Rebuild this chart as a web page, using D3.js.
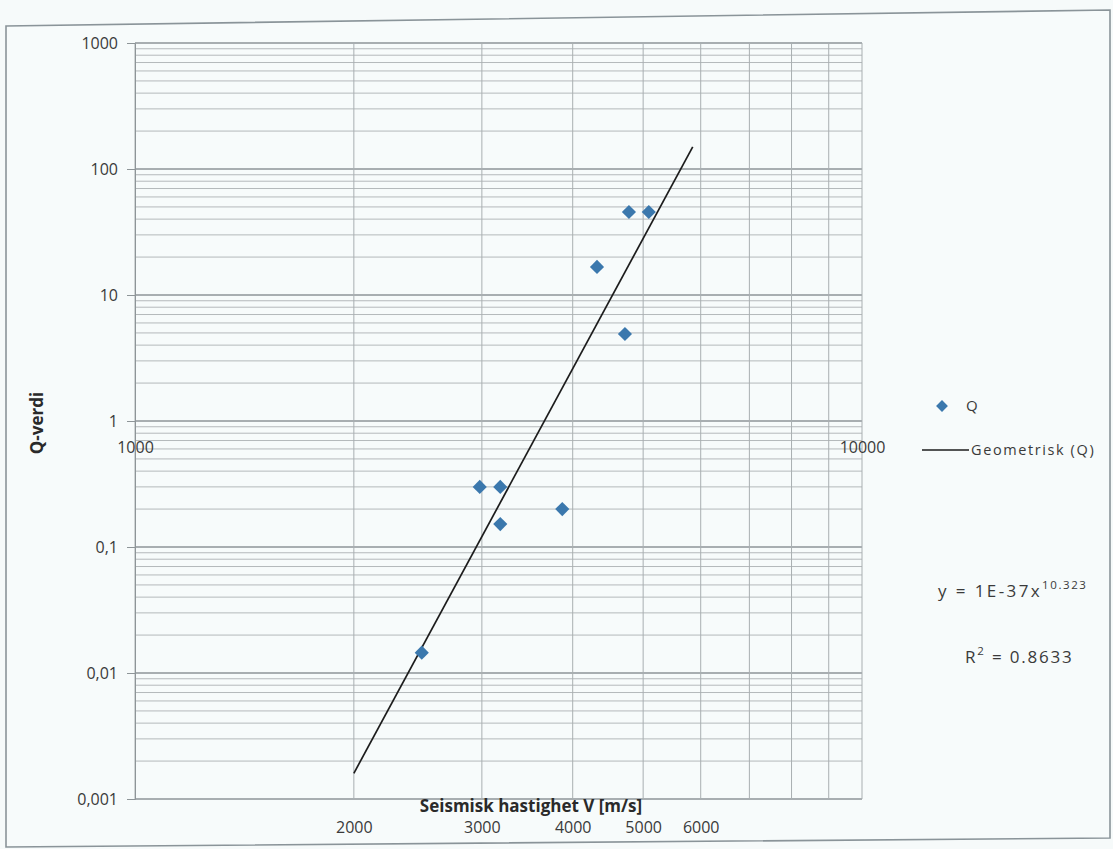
<!DOCTYPE html>
<html>
<head>
<meta charset="utf-8">
<script src="https://cdn.jsdelivr.net/npm/d3@7"></script>
<style>
  html, body { margin: 0; padding: 0; background: #f6fafa; }
  svg { display: block; font-family: "Open Sans", "Liberation Sans", sans-serif; }
</style>
</head>
<body>
<svg id="chart" width="1113" height="849"></svg>
<script>
// ---- data ----
const velocity = [2480, 2980, 3180, 3180, 3870, 4320, 4720, 4780, 5090];
const qValue   = [0.0145, 0.30, 0.30, 0.152, 0.20, 16.7, 4.9, 45.6, 45.6];
const trendX = [2000, 5850];
const trendY = [0.0016, 150];
const yTickValues = [1000, 100, 10, 1, 0.1, 0.01, 0.001];
const yTickLabels = ["1000", "100", "10", "1", "0,1", "0,01", "0,001"];
const xTopTickValues = [1000, 10000];
const xTopTickLabels = ["1000", "10000"];
const xBottomTickValues = [2000, 3000, 4000, 5000, 6000];
const xBottomTickLabels = ["2000", "3000", "4000", "5000", "6000"];
const seriesName = "Q";
const trendName = "Geometrisk (Q)";
const equationMain = "y = 1E-37x";
const equationExp = "10.323";
const rSquared = "0.8633";
const xTitle = "Seismisk hastighet V [m/s]";
const yTitle = "Q-verdi";

const svg = d3.select("#chart");
const textColor = "#3a3a3a";

// frame (slightly skewed, as in the photographed chart)
svg.append("path")
  .attr("d", "M6,26 L1110,10 L1110,838 L6,847 Z")
  .attr("fill", "#f7fbfb")
  .attr("stroke", "#8a9499")
  .attr("stroke-width", 1.6);

const x = d3.scaleLog().domain([1000, 10000]).range([135, 862]);
const y = d3.scaleLog().domain([0.001, 1000]).range([799, 43]);

const g = svg.append("g");

// horizontal gridlines (minor + major)
const hLines = [];
for (let e = -3; e < 3; e++) {
  for (let m = 1; m <= 9; m++) hLines.push(m * Math.pow(10, e));
}
hLines.push(1000);
const isMajor = d => yTickValues.includes(+d.toPrecision(3));
g.append("g").selectAll("line").data(hLines).join("line")
  .attr("x1", x(1000)).attr("x2", x(10000))
  .attr("y1", d => y(d)).attr("y2", d => y(d))
  .attr("stroke", d => isMajor(d) ? "#8e9598" : "#b4b9bb")
  .attr("stroke-width", d => isMajor(d) ? 1.4 : 1);

// vertical gridlines
const vLines = [];
for (let m = 1; m <= 10; m++) vLines.push(m * 1000);
g.append("g").selectAll("line").data(vLines).join("line")
  .attr("x1", d => x(d)).attr("x2", d => x(d))
  .attr("y1", y(1000)).attr("y2", y(0.001))
  .attr("stroke", "#a9afb1")
  .attr("stroke-width", 1);

// y axis
const yAxis = d3.axisLeft(y)
  .tickValues(yTickValues)
  .tickFormat((d, i) => yTickLabels[i])
  .tickSize(8).tickPadding(9);
const yAxisG = svg.append("g").attr("transform", `translate(${x(1000)},0)`).call(yAxis);
yAxisG.select(".domain").attr("stroke", "#8e9598");
yAxisG.selectAll(".tick line").attr("stroke", "#8e9598");
yAxisG.selectAll("text").attr("font-size", 16).attr("fill", textColor)
  .attr("font-family", "'Open Sans', sans-serif");

// x axis crossing at y = 1 (labels 1000 and 10000)
const xTop = d3.axisBottom(x)
  .tickValues(xTopTickValues)
  .tickFormat((d, i) => xTopTickLabels[i])
  .tickSize(0).tickPadding(21);
const xTopG = svg.append("g").attr("transform", `translate(0,${y(1)})`).call(xTop);
xTopG.select(".domain").remove();
xTopG.selectAll("text").attr("font-size", 16).attr("fill", textColor)
  .attr("font-family", "'Open Sans', sans-serif");

// bottom labels 2000..6000
const xBottom = d3.axisBottom(x)
  .tickValues(xBottomTickValues)
  .tickFormat((d, i) => xBottomTickLabels[i])
  .tickSize(0).tickPadding(23);
const xBottomG = svg.append("g").attr("transform", `translate(0,${y(0.001)})`).call(xBottom);
xBottomG.select(".domain").remove();
xBottomG.selectAll("text").attr("font-size", 16).attr("fill", textColor)
  .attr("font-family", "'Open Sans', sans-serif");

// axis titles
svg.append("text")
  .attr("x", 531).attr("y", 812)
  .attr("text-anchor", "middle")
  .attr("font-size", 17).attr("font-weight", "bold").attr("fill", "#2a2a2a")
  .text(xTitle);
svg.append("text")
  .attr("transform", "translate(43,423) rotate(-90)")
  .attr("text-anchor", "middle")
  .attr("font-size", 17).attr("font-weight", "bold").attr("fill", "#2a2a2a")
  .text(yTitle);

// trendline
const line = d3.line().x(d => x(d[0])).y(d => y(d[1]));
svg.append("path")
  .datum(trendX.map((v, i) => [v, trendY[i]]))
  .attr("d", line)
  .attr("fill", "none")
  .attr("stroke", "#1c1c1c")
  .attr("stroke-width", 1.7);

// points (rotated squares = Excel diamonds)
const diamond = d3.symbol().type(d3.symbolSquare).size(100);
svg.append("g").selectAll("path")
  .data(velocity.map((v, i) => [v, qValue[i]]))
  .join("path")
  .attr("d", diamond)
  .attr("transform", d => `translate(${x(d[0])},${y(d[1])}) rotate(45)`)
  .attr("fill", "#3b78ad");

// legend
svg.append("path")
  .attr("d", d3.symbol().type(d3.symbolSquare).size(70)())
  .attr("transform", "translate(942,406) rotate(45)")
  .attr("fill", "#3b78ad");
svg.append("text")
  .attr("x", 966).attr("y", 411)
  .attr("font-size", 15).attr("fill", textColor)
  .text(seriesName);
svg.append("line")
  .attr("x1", 922).attr("x2", 969).attr("y1", 450).attr("y2", 450)
  .attr("stroke", "#1c1c1c").attr("stroke-width", 1.5);
svg.append("text")
  .attr("x", 971).attr("y", 455)
  .attr("font-size", 14.5).attr("letter-spacing", 1.6).attr("fill", textColor)
  .text(trendName);

// equation and R²
const eq = svg.append("text")
  .attr("x", 938).attr("y", 597)
  .attr("font-size", 17).attr("letter-spacing", 2.4).attr("fill", textColor);
eq.append("tspan").text(equationMain);
eq.append("tspan").attr("dy", -8).attr("font-size", 11.5).attr("letter-spacing", 1.6).text(equationExp);

const r2 = svg.append("text")
  .attr("x", 965).attr("y", 663)
  .attr("font-size", 17).attr("letter-spacing", 1.8).attr("fill", textColor);
r2.append("tspan").text("R");
r2.append("tspan").attr("dy", -8).attr("font-size", 11.5).text("2");
r2.append("tspan").attr("dy", 8).text(" = " + rSquared);
</script>
</body>
</html>
